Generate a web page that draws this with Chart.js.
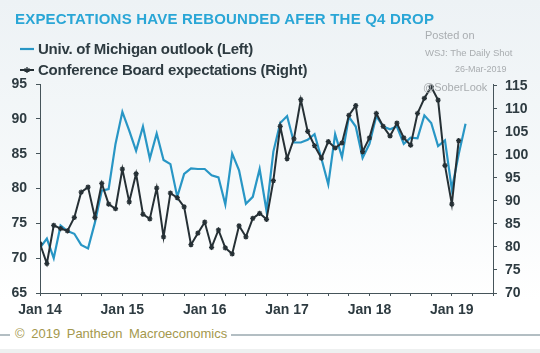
<!DOCTYPE html>
<html>
<head>
<meta charset="utf-8">
<script src="https://cdn.jsdelivr.net/npm/chart.js@4/dist/chart.umd.min.js"></script>
<style>
  html,body{margin:0;padding:0;background:#fff;}
  #wrap{position:relative;width:540px;height:353px;overflow:hidden;
    background:linear-gradient(#edf2f5 0px,#f6f9fa 180px,#ffffff 300px);font-family:"Liberation Sans",Arial,sans-serif;}
  #c{position:absolute;left:0;top:0;}
  .t{position:absolute;white-space:nowrap;}
  #title{left:15px;top:10px;font-size:15px;font-weight:bold;color:#2aa6d6;letter-spacing:.2px;}
  .lg{left:20px;font-size:15px;font-weight:bold;letter-spacing:-.25px;color:#2e3b41;}
  .lg svg{vertical-align:middle;margin-right:4px;position:relative;top:-1px;}
  #lg1{top:40px;} #lg2{top:61px;}
  .wm{color:#a9adb0;}
  #foot{position:absolute;left:0;top:334px;width:540px;height:19px;background:#fff;}
  #footline{position:absolute;left:0;right:0;top:0;height:2px;background:#b3bec3;}
  #footbot{position:absolute;left:0;right:0;bottom:0;height:4px;background:#eef0f0;}
  #foottxt{left:10px;top:-8px;padding:0 4px 0 5px;background:#fff;font-size:13px;color:#a4984d;word-spacing:3px;}
</style>
</head>
<body>
<div id="wrap">
  <canvas id="c" width="540" height="353"></canvas>
  <div class="t" id="title">EXPECTATIONS HAVE REBOUNDED AFER THE Q4 DROP</div>
  <div class="t lg" id="lg1"><svg width="14" height="8"><line x1="0" y1="4" x2="14" y2="4" stroke="#2896c5" stroke-width="2.2"/></svg>Univ. of Michigan outlook (Left)</div>
  <div class="t lg" id="lg2"><svg width="14" height="8"><line x1="0" y1="4" x2="14" y2="4" stroke="#263035" stroke-width="2"/><path d="M7 1V7M4.5 2.5L9.5 5.5M9.5 2.5L4.5 5.5" stroke="#263035" stroke-width="1.3"/></svg>Conference Board expectations (Right)</div>
  <div class="t wm" style="left:425px;top:29px;font-size:11px;">Posted on</div>
  <div class="t wm" style="left:425px;top:47px;font-size:9.5px;">WSJ: The Daily Shot</div>
  <div class="t wm" style="left:455px;top:64px;font-size:9px;">26-Mar-2019</div>
  <div class="t wm" style="left:423px;top:81px;font-size:11px;">@SoberLook</div>
  <div id="foot"><div id="footline"></div><div id="footbot"></div><div class="t" id="foottxt">© 2019 Pantheon Macroeconomics</div></div>
</div>
<script>
// monthly, Jan 2014 onward
const yearLabels = ['Jan 14','Jan 15','Jan 16','Jan 17','Jan 18','Jan 19'];
const michigan = [
  71.5, 72.8, 70.0, 74.7, 73.9, 73.5, 71.9, 71.4, 75.1, 79.7, 79.9, 86.4,
  91.0, 88.3, 85.4, 88.9, 84.3, 87.9, 84.1, 83.5, 78.8, 82.1, 82.9, 82.8,
  82.8, 81.9, 81.6, 77.7, 85.0, 82.6, 77.8, 78.8, 82.8, 76.8, 85.3, 89.4,
  90.4, 86.6, 86.6, 87.0, 87.8, 84.3, 80.6, 87.8, 84.5, 90.3, 88.9, 84.4,
  86.4, 90.4, 88.9, 88.5, 88.9, 86.4, 87.3, 87.2, 90.5, 89.4, 86.1, 86.9,
  79.9, 84.9, 89.3
];
const confBoard = [
  80.7, 76.4, 84.7, 84.0, 83.5, 86.4, 91.9, 93.0, 86.4, 93.8, 89.3, 88.3,
  96.9, 89.8, 95.9, 87.1, 86.1, 92.8, 82.2, 91.7, 90.7, 88.7, 80.5, 83.0,
  85.4, 79.9, 83.7, 79.8, 78.5, 84.6, 82.2, 86.2, 87.3, 86.0, 94.4, 106.2,
  99.2, 103.5, 112.0, 105.1, 102.0, 99.3, 102.9, 101.5, 102.6, 108.6, 110.7, 100.7,
  103.7, 109.0, 106.2, 104.1, 106.9, 103.7, 102.1, 109.0, 112.3, 114.8, 111.9, 97.7,
  89.3, 103.1
];
const leftRange = [65, 95], rightRange = [70, 115.4], monthSpan = 66;

const BLUE='#2896c5', DARK='#263035', AX='#46545a', TXT='#2e3b41';
const tickFont = {family:'"Liberation Sans", Arial, sans-serif', size:14, weight:'bold'};
const xy = arr => arr.map((y,x)=>({x,y}));

new Chart(document.getElementById('c'), {
  type:'line',
  data:{datasets:[
    {label:'Conference Board expectations (Right)', data:xy(confBoard), yAxisID:'yR', order:0,
     borderColor:DARK, borderWidth:2, tension:0, pointStyle:'star', pointRadius:2.6,
     pointBorderColor:DARK, pointBackgroundColor:DARK, pointBorderWidth:1.3},
    {label:'Univ. of Michigan outlook (Left)', data:xy(michigan), yAxisID:'yL', order:1,
     borderColor:BLUE, borderWidth:2.2, tension:0, pointRadius:0}
  ]},
  options:{
    responsive:false, animation:false, events:[],
    layout:{padding:{top:84,left:0,right:0,bottom:0}},
    plugins:{legend:{display:false}, tooltip:{enabled:false}},
    scales:{
      x:{type:'linear', min:0, max:monthSpan, position:'bottom',
         afterFit:s=>{s.height=60;},
         border:{display:true,color:AX,width:1},
         grid:{drawOnChartArea:false, tickLength:3, color:AX},
         ticks:{stepSize:3, autoSkip:false, maxRotation:0, padding:6, color:TXT, font:tickFont,
                callback:v=>v%12===0?yearLabels[v/12]:''}},
      yL:{position:'left', min:leftRange[0], max:leftRange[1],
          afterFit:s=>{s.width=40;},
          border:{display:true,color:AX,width:1},
          grid:{drawOnChartArea:false, tickLength:4, color:AX},
          ticks:{stepSize:5, padding:9, color:TXT, font:tickFont}},
      yR:{position:'right', min:rightRange[0], max:rightRange[1],
          afterFit:s=>{s.width=47;},
          border:{display:true,color:AX,width:1},
          grid:{drawOnChartArea:false, tickLength:4, color:AX},
          ticks:{stepSize:5, includeBounds:false, padding:8, color:TXT, font:tickFont}}
    }
  }
});
</script>
</body>
</html>
